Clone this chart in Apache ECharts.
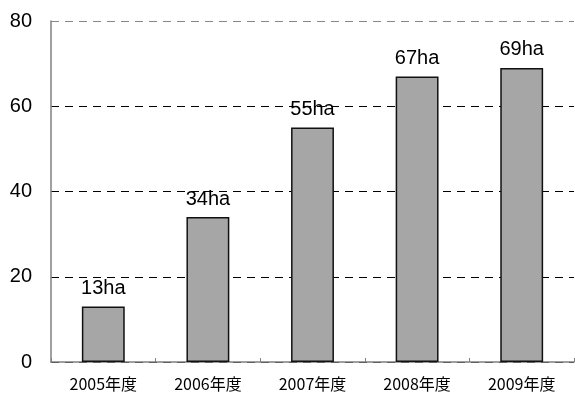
<!DOCTYPE html>
<html>
<head>
<meta charset="utf-8">
<script src="https://cdn.jsdelivr.net/npm/echarts@6/dist/echarts.min.js"></script>
<style>
  html, body { margin: 0; padding: 0; background: #fff; }
  #chart { width: 575px; height: 393px; }
</style>
</head>
<body>
<div id="chart"></div>
<script>
// Planted area per fiscal year (ha)
const categories = ['2005年度', '2006年度', '2007年度', '2008年度', '2009年度'];
const areaValues = [13, 34, 55, 67, 69];
const yTicks = { min: 0, max: 80, interval: 20 };

const chart = echarts.init(document.getElementById('chart'));
chart.setOption({
  animation: false,
  backgroundColor: '#ffffff',
  grid: { left: 51, right: 1, top: 21, bottom: 31, containLabel: false },
  xAxis: {
    type: 'category',
    data: categories,
    axisLine: { lineStyle: { color: '#808080', width: 1.5 } },
    axisTick: { show: true, inside: true, length: 4, lineStyle: { color: '#808080' } },
    axisLabel: {
      color: '#000',
      fontSize: 16,
      fontFamily: '"Noto Sans CJK JP", sans-serif',
      margin: 14
    }
  },
  yAxis: {
    type: 'value',
    min: yTicks.min,
    max: yTicks.max,
    interval: yTicks.interval,
    axisLine: { show: true, lineStyle: { color: '#808080', width: 1.5 } },
    axisTick: { show: false },
    axisLabel: {
      color: '#000',
      fontSize: 20,
      fontFamily: '"Liberation Sans", Arial, sans-serif',
      margin: 19
    },
    splitLine: {
      show: true,
      lineStyle: {
        color: ['#000', '#000', '#000', '#000', '#888'],
        type: [8, 6],
        width: 1
      }
    }
  },
  series: [{
    type: 'bar',
    data: areaValues,
    barWidth: '41%',
    itemStyle: { color: '#a6a6a6', borderColor: '#111', borderWidth: 1.5 },
    label: {
      show: true,
      position: 'top',
      distance: 8,
      formatter: p => p.value + 'ha',
      color: '#000',
      fontSize: 20,
      fontFamily: '"Liberation Sans", Arial, sans-serif'
    }
  }]
});
</script>
</body>
</html>
